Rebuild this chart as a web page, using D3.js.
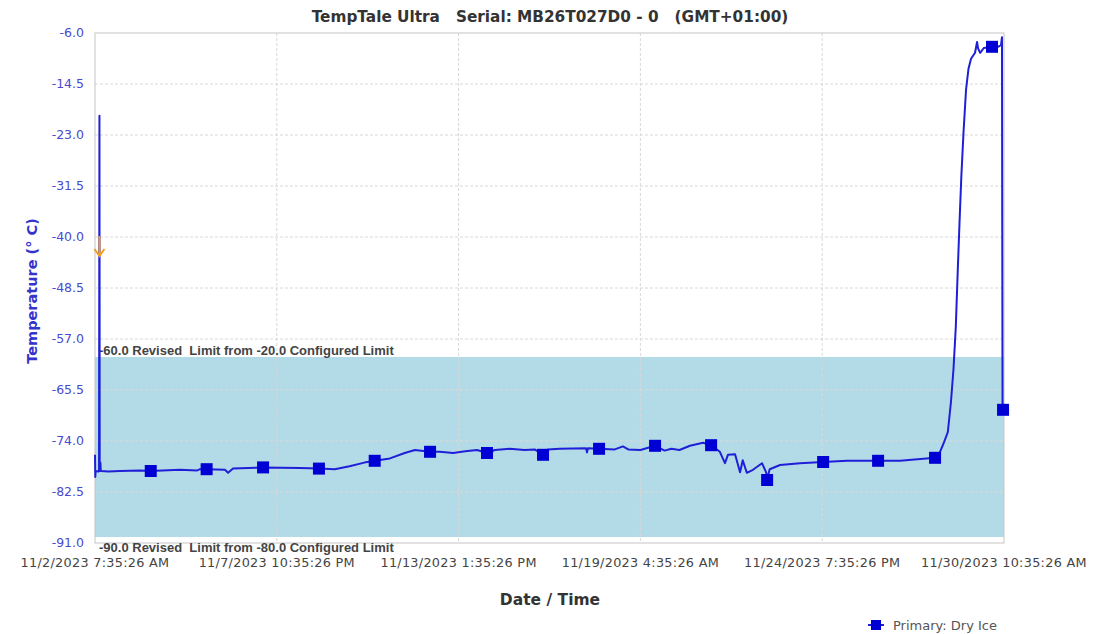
<!DOCTYPE html>
<html>
<head>
<meta charset="utf-8">
<script src="https://cdn.jsdelivr.net/npm/d3@7"></script>
<style>
  body { margin: 0; background: #fff; }
  svg { display: block; }
  text { white-space: pre; }
  .grid line { stroke: #d8d8d8; stroke-dasharray: 3,2; }
  .tick-y { font-family: 'DejaVu Sans', Verdana, sans-serif; font-size: 12.5px; fill: #4a4ad0; }
  .tick-x { font-family: 'DejaVu Sans', Verdana, sans-serif; font-size: 12.8px; letter-spacing: 0.3px; fill: #444; }
  .limit-label { font-family: 'Liberation Sans', Arial, sans-serif; font-size: 13px; font-weight: bold; fill: #444; }
</style>
</head>
<body>
<div class="chart-container"></div>
<script>
var margin = {top: 33, right: 95, bottom: 91, left: 95};
var width = 1099 - margin.left - margin.right;
var height = 634 - margin.top - margin.bottom;

var startTime = new Date(2023, 10, 2, 7, 35, 26);
var endTime = new Date(2023, 10, 30, 10, 35, 26);

var yTicks = [-6.0, -14.5, -23.0, -31.5, -40.0, -48.5, -57.0, -65.5, -74.0, -82.5, -91.0];
var xTickLabels = ['11/2/2023 7:35:26 AM', '11/7/2023 10:35:26 PM', '11/13/2023 1:35:26 PM',
  '11/19/2023 4:35:26 AM', '11/24/2023 7:35:26 PM', '11/30/2023 10:35:26 AM'];
var xTickHours = [0, 135, 270, 405, 540, 675];

var upperLimit = -60.0;
var lowerLimit = -90.0;
var upperLimitText = '-60.0 Revised  Limit from -20.0 Configured Limit';
var lowerLimitText = '-90.0 Revised  Limit from -80.0 Configured Limit';

// [hours since start, temperature °C]
var readings = [
  [0, -76.3], [0.2, -80.0], [0.5, -79.0], [2.6, -79.1], [3.0, -79.0], [3.3, -19.8], [3.5, -79.0],
  [4.0, -77.6], [4.3, -79.0], [10, -79.1], [18.6, -79.0], [33.4, -78.9], [41.4, -79.0],
  [63, -78.8], [76, -78.9], [78, -78.7], [82.9, -78.7], [96.5, -78.8], [98.8, -79.3],
  [102.5, -78.6], [124.8, -78.4], [152, -78.5], [166.3, -78.6], [178, -78.7], [189, -78.2],
  [200, -77.6], [207.7, -77.3], [219, -76.9], [230, -76.0], [237.6, -75.5], [248.8, -75.8],
  [256, -75.8], [265.9, -76.0], [275, -75.7], [283.7, -75.5], [291.1, -76.0], [297, -75.5],
  [308, -75.3], [319, -75.5], [326.5, -75.4], [332.7, -76.3], [336.4, -75.4], [345, -75.3],
  [364.6, -75.2], [365.4, -75.9], [366, -75.2], [374.3, -75.3], [386, -75.4], [392, -74.9],
  [396, -75.4], [405, -75.5], [415.9, -74.8], [423, -75.6], [428, -75.3], [434, -75.5],
  [441.8, -74.8], [451.5, -74.3], [457.5, -74.7], [464, -75.8], [467.8, -77.7], [470, -76.3],
  [475.3, -76.2], [479, -79.2], [481, -77.2], [484, -79.3], [488.6, -78.8], [495.3, -77.7],
  [498.3, -79.2], [499.1, -80.3], [501, -78.7], [508.7, -78.0], [523.5, -77.7], [540.7, -77.5],
  [558.4, -77.3], [581.5, -77.3], [597.8, -77.3], [623.8, -76.8], [627.5, -75.8], [630.5, -74.2],
  [633.3, -72.5], [635.6, -67.5], [637.5, -62.0], [639.2, -55.0], [640.6, -46.0], [641.9, -38.0],
  [643.3, -30.0], [644.9, -22.7], [646.8, -15.5], [648.6, -12.0], [650.5, -10.3], [653.5, -9.3],
  [655, -7.5], [655.8, -8.6], [657.3, -9.3], [660, -8.5], [666.1, -8.3], [670.6, -8.3],
  [672.8, -8.0], [673.5, -6.7], [673.9, -67.5], [674.3, -68.8]
];

var markers = [
  [41.4, -79.0], [82.9, -78.7], [124.8, -78.4], [166.3, -78.6], [207.7, -77.3], [248.8, -75.8],
  [291.1, -76.0], [332.7, -76.3], [374.3, -75.3], [415.9, -74.8], [457.5, -74.7], [499.1, -80.5],
  [540.7, -77.5], [581.5, -77.3], [623.8, -76.8], [666.1, -8.3], [674.3, -68.8]
];

// alarm event marker (orange arrow)
var alarmEvent = [3.3, -41.5];

function toDate(h) { return new Date(startTime.getTime() + h * 3600 * 1000); }

var x = d3.scaleTime()
  .domain([startTime, endTime])
  .range([margin.left, margin.left + width]);

var y = d3.scaleLinear()
  .domain([-6, -91])
  .range([margin.top, margin.top + height]);

var svg = d3.select('.chart-container').append('svg')
  .attr('width', 1099)
  .attr('height', 634);

// title
svg.append('text')
  .attr('x', 550).attr('y', 22)
  .attr('text-anchor', 'middle')
  .style('font-family', "'DejaVu Sans', Verdana, sans-serif")
  .style('font-size', '15.3px')
  .style('font-weight', 'bold')
  .style('fill', '#333')
  .text('TempTale Ultra   Serial: MB26T027D0 - 0   (GMT+01:00)');

// limit band
svg.append('rect')
  .attr('x', margin.left)
  .attr('y', y(upperLimit))
  .attr('width', width)
  .attr('height', y(lowerLimit) - y(upperLimit))
  .attr('fill', '#b3dbe7');

// grid
var grid = svg.append('g').attr('class', 'grid');
grid.selectAll('.hg')
  .data(yTicks.slice(1, -1))
  .enter().append('line')
  .attr('x1', margin.left).attr('x2', margin.left + width)
  .attr('y1', d => y(d)).attr('y2', d => y(d));
grid.selectAll('.vg')
  .data(xTickHours.slice(1, -1))
  .enter().append('line')
  .attr('y1', margin.top).attr('y2', margin.top + height)
  .attr('x1', d => x(toDate(d))).attr('x2', d => x(toDate(d)));

// plot border
svg.append('rect')
  .attr('x', margin.left).attr('y', margin.top)
  .attr('width', width).attr('height', height)
  .attr('fill', 'none')
  .attr('stroke', '#c4c4c4');

// y ticks
svg.selectAll('.tick-y')
  .data(yTicks)
  .enter().append('text')
  .attr('class', 'tick-y')
  .attr('x', 84)
  .attr('y', d => y(d) + 4)
  .attr('text-anchor', 'end')
  .text(d => d.toFixed(1));

// x ticks
svg.selectAll('.tick-x')
  .data(xTickHours)
  .enter().append('text')
  .attr('class', 'tick-x')
  .attr('x', d => x(toDate(d)))
  .attr('y', 567)
  .attr('text-anchor', 'middle')
  .text((d, i) => xTickLabels[i]);

// limit labels
svg.append('text')
  .attr('class', 'limit-label')
  .attr('x', margin.left + 4)
  .attr('y', y(upperLimit) - 2)
  .text(upperLimitText);
svg.append('text')
  .attr('class', 'limit-label')
  .attr('x', margin.left + 4)
  .attr('y', y(lowerLimit) + 15)
  .text(lowerLimitText);

// axis labels
svg.append('text')
  .attr('transform', `translate(37, ${margin.top + height / 2 + 3}) rotate(-90)`)
  .attr('text-anchor', 'middle')
  .style('font-family', "'DejaVu Sans', Verdana, sans-serif")
  .style('font-size', '14.5px')
  .style('font-weight', 'bold')
  .style('fill', '#3434cc')
  .text('Temperature (° C)');

svg.append('text')
  .attr('x', 550).attr('y', 605)
  .attr('text-anchor', 'middle')
  .style('font-family', "'DejaVu Sans', Verdana, sans-serif")
  .style('font-size', '15.5px')
  .style('font-weight', 'bold')
  .style('fill', '#333')
  .text('Date / Time');

// data line
var line = d3.line()
  .x(d => x(toDate(d[0])))
  .y(d => y(d[1]));

svg.append('path')
  .datum(readings)
  .attr('d', line)
  .attr('fill', 'none')
  .attr('stroke', '#1f1fd8')
  .attr('stroke-width', 2)
  .attr('stroke-linejoin', 'round');

svg.selectAll('.marker')
  .data(markers)
  .enter().append('rect')
  .attr('class', 'marker')
  .attr('x', d => x(toDate(d[0])) - 6)
  .attr('y', d => y(d[1]) - 6)
  .attr('width', 12)
  .attr('height', 12)
  .attr('fill', '#0000d4');

// alarm arrow
var ax = x(toDate(alarmEvent[0]));
var ay = y(alarmEvent[1]);
svg.append('path')
  .attr('d', `M${ax},${ay - 10}V${ay + 10}M${ax - 5},${ay + 3}L${ax},${ay + 10}L${ax + 5},${ay + 3}`)
  .attr('fill', 'none')
  .attr('stroke', '#f0a020')
  .attr('stroke-width', 2);

// legend
var legend = svg.append('g').attr('transform', 'translate(868, 625)');
legend.append('line')
  .attr('x1', 0).attr('x2', 16).attr('y1', 0).attr('y2', 0)
  .attr('stroke', '#1f1fd8').attr('stroke-width', 2);
legend.append('rect')
  .attr('x', 3).attr('y', -5).attr('width', 10).attr('height', 10)
  .attr('fill', '#0000d4');
legend.append('text')
  .attr('x', 25).attr('y', 4.5)
  .style('font-family', "'DejaVu Sans', Verdana, sans-serif")
  .style('font-size', '13px')
  .style('fill', '#555')
  .text('Primary: Dry Ice');
</script>
</body>
</html>
